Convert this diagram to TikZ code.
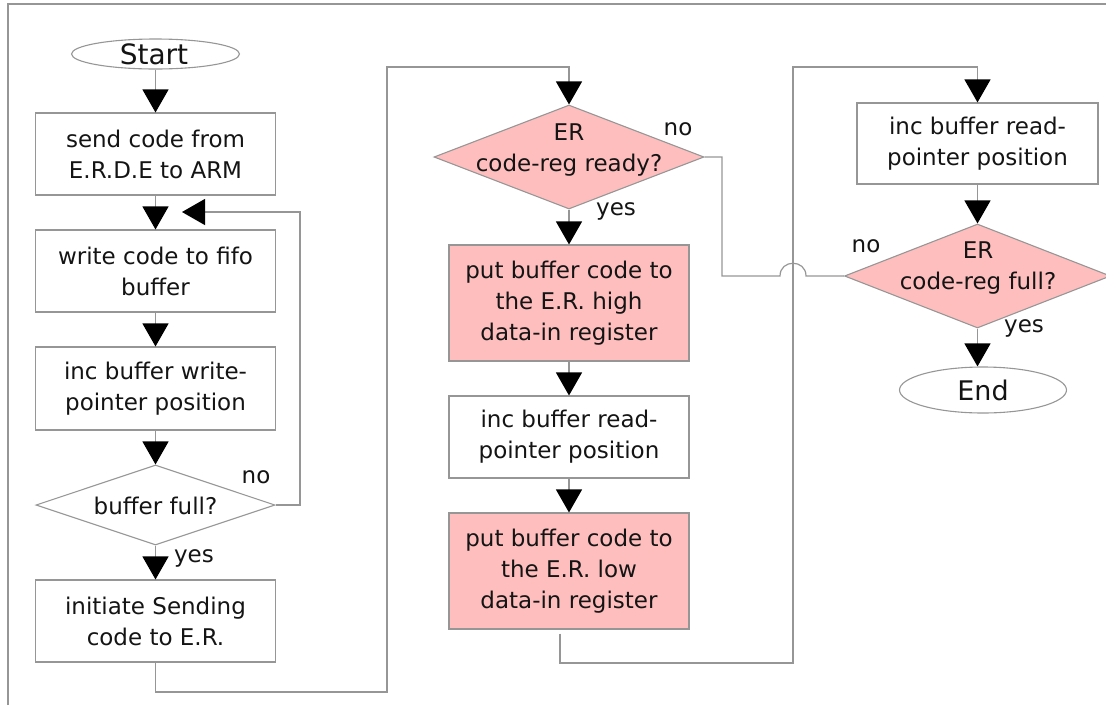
\documentclass[tikz,border=0pt]{standalone}
\usepackage{fontspec}
\setmainfont{DejaVu Sans}
\usetikzlibrary{arrows.meta,shapes.geometric,calc}
\definecolor{lgray}{RGB}{150,150,150}
\definecolor{pinkf}{RGB}{255,190,190}
\definecolor{txt}{RGB}{20,20,20}
\begin{document}
\begin{tikzpicture}[x=1pt,y=-1pt,
  every node/.style={text=txt,font=\fontsize{23}{31}\selectfont},
  box/.style={draw=lgray,line width=1.1pt,rectangle,inner sep=0pt,minimum width=240pt,align=center},
  pbox/.style={box,fill=pinkf},
  dia/.style={draw=lgray,line width=1.1pt,diamond,inner sep=0pt},
  term/.style={draw=lgray,line width=1.1pt,ellipse,inner sep=0pt},
  conn/.style={draw=lgray,line width=1.2pt},
  arr/.style={conn,-{Triangle[length=23pt,width=26pt,color=black]}},
  lbl/.style={inner sep=0pt}
]
\useasboundingbox (0,0) rectangle (1106,705);
\draw[lgray,line width=1.5pt] (8,705) -- (8,4) -- (1106,4);

% column 1
\node[term,minimum width=168pt,minimum height=30pt] (start) at (155.5,54) {};
\node[lbl,font=\fontsize{28}{31}\selectfont] (startt) at (154,54) {Start};
\node[box,minimum height=82pt] (b1) at (155.5,154) {send code from\\E.R.D.E to ARM};
\node[box,minimum height=82pt] (b2) at (155.5,271) {write code to fifo\\buffer};
\node[box,minimum height=83pt] (b3) at (155.5,388.5) {inc buffer write-\\pointer position};
\node[dia,minimum width=239pt,minimum height=80pt] (d1) at (155.5,505) {};
\node[lbl] (d1t) at (155.5,506) {buffer full?};
\node[box,minimum height=82pt] (b4) at (155.5,621) {initiate Sending\\code to E.R.};

\node[lbl] (no1) at (256,477) {no};
\node[lbl] (yes1) at (194,558) {yes};

% column 2
\node[dia,fill=pinkf,minimum width=270pt,minimum height=104pt] (d2) at (569,157) {};
\node[lbl,align=center] (d2t) at (569,150) {ER\\code-reg ready?};
\node[pbox,minimum height=116pt] (b5) at (569,303) {put buffer code to\\the E.R. high\\data-in register};
\node[box,minimum height=82pt] (b6) at (569,437) {inc buffer read-\\pointer position};
\node[pbox,minimum height=116pt] (b7) at (569,571) {put buffer code to\\the E.R. low\\data-in register};

\node[lbl] (no2) at (678,129) {no};
\node[lbl] (yes2) at (616,211) {yes};

% column 3
\node[box,minimum width=241pt,minimum height=81pt] (b8) at (977.5,143.5) {inc buffer read-\\pointer position};
\node[dia,fill=pinkf,minimum width=266pt,minimum height=104pt] (d3) at (977.5,276) {};
\node[lbl,align=center] (d3t) at (978,268) {ER\\code-reg full?};
\node[term,minimum width=167pt,minimum height=46pt] (end) at (983,390) {};
\node[lbl,font=\fontsize{27}{31}\selectfont] (endt) at (983,390) {End};

\node[lbl] (no3) at (866,246) {no};
\node[lbl] (yes3) at (1024,328) {yes};

% connectors column 1
\draw[arr] (start.south) -- (b1.north);
\draw[arr] (b1.south) -- (b2.north);
\draw[arr] (b2.south) -- (b3.north);
\draw[arr] (b3.south) -- (d1.north);
\draw[arr] (d1.south) -- (b4.north);
\coordinate (loopend) at (182,212);
\draw[arr] (d1.east) -- (300,505) -- (300,212) -- (loopend);

% column 1 -> column 2
\draw[arr] (b4.south) -- (155.5,692) -- (387,692) -- (387,67) -- (569,67) -- (d2.north);
\draw[arr] (d2.south) -- (b5.north);
\draw[arr] (b5.south) -- (b6.north);
\draw[arr] (b6.south) -- (b7.north);

% column 2 -> column 3
\draw[arr] ($(b7.south)+(-9,4)$) -- (560,663) -- (793,663) -- (793,67) -- (977.5,67) -- (b8.north);
\draw[arr] (b8.south) -- (d3.north);
\draw[arr] (d3.south) -- (d3.south |- end.north);

% no from d2 with jump
\draw[conn] (d2.east) -- (722,157) -- (722,276) -- (780,276)
  .. controls (780,259) and (806,259) .. (806,276) -- (d3.west);
\end{tikzpicture}
\end{document}
